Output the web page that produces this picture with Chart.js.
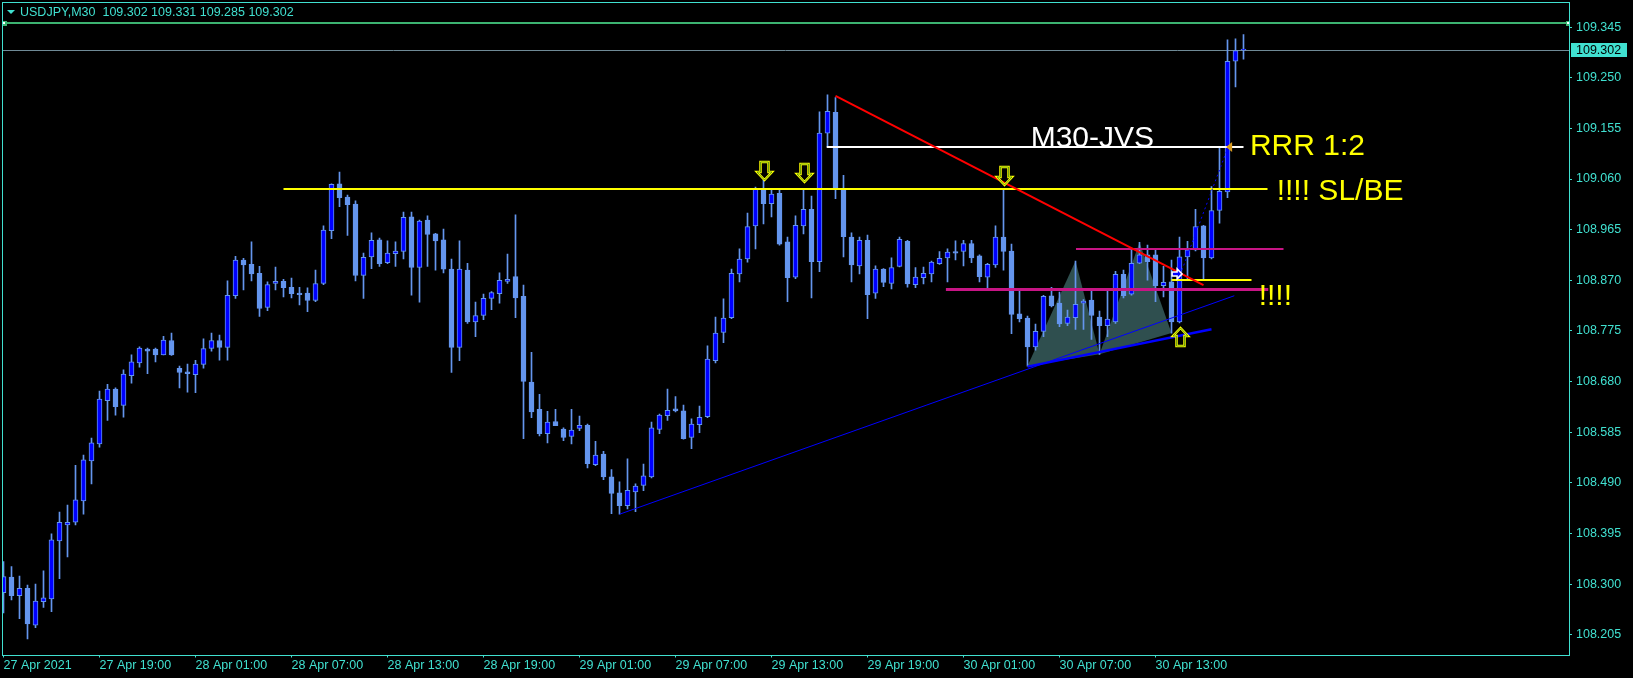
<!DOCTYPE html>
<html>
<head>
<meta charset="utf-8">
<script src="https://cdn.jsdelivr.net/npm/chart.js@4.4.1/dist/chart.umd.min.js"></script>
<style>
html, body { margin: 0; padding: 0; background: #000; overflow: hidden; }
canvas { display: block; }
</style>
</head>
<body>
<canvas id="chart" width="1633" height="678"></canvas>
<script>
// USDJPY M30, one entry per bar, bar 0 = 27 Apr 13:00
const opens = [
108.284,108.313,108.278,108.292,108.223,108.267,108.272,108.381,108.411,108.416,
108.456,108.531,108.563,108.644,108.666,108.635,108.691,108.715,108.741,108.741,
108.730,108.757,108.705,108.698,108.693,108.712,108.742,108.757,108.744,108.841,
108.908,108.900,108.883,108.819,108.864,108.868,108.857,108.846,108.846,108.832,
108.864,108.963,109.051,109.026,109.013,108.879,108.914,108.946,108.903,108.920,
108.924,108.989,108.894,108.983,108.957,108.946,108.891,108.744,108.889,108.792,
108.804,108.836,108.845,108.868,108.877,108.840,108.679,108.628,108.582,108.605,
108.591,108.577,108.592,108.598,108.524,108.544,108.501,108.471,108.447,108.473,
108.485,108.501,108.590,108.616,108.629,108.625,108.575,108.599,108.614,108.719,
108.772,108.800,108.882,108.910,108.972,109.041,109.014,109.033,108.942,108.876,
108.972,109.003,108.905,109.146,109.185,109.041,108.951,108.897,108.945,108.846,
108.891,108.864,108.896,108.943,108.862,108.875,108.882,108.901,108.912,108.924,
108.924,108.939,108.916,108.876,108.899,108.951,108.925,108.807,108.799,108.745,
108.774,108.841,108.827,108.789,108.800,108.827,108.833,108.801,108.785,108.792,
108.881,108.844,108.902,108.918,108.918,108.860,108.867,108.792,108.914,108.927,
108.972,108.912,109.001,109.036,109.281,109.302];
const highs = [
108.342,108.333,108.315,108.298,108.300,108.325,108.394,108.435,108.448,108.523,
108.542,108.574,108.662,108.675,108.668,108.702,108.730,108.745,108.743,108.743,
108.765,108.771,108.709,108.713,108.720,108.760,108.771,108.767,108.869,108.915,
108.911,108.942,108.896,108.867,108.895,108.872,108.874,108.857,108.856,108.889,
108.972,109.051,109.073,109.030,109.019,108.921,108.959,108.949,108.944,108.942,
108.998,108.998,108.983,108.991,108.958,108.966,108.910,108.944,108.902,108.829,
108.844,108.849,108.884,108.919,108.993,108.861,108.735,108.656,108.624,108.628,
108.593,108.628,108.615,108.600,108.568,108.549,108.515,108.492,108.535,108.488,
108.525,108.604,108.619,108.666,108.652,108.636,108.610,108.634,108.747,108.801,
108.835,108.891,108.929,108.996,109.045,109.058,109.039,109.039,108.951,108.991,
109.040,109.028,109.186,109.218,109.213,109.067,108.959,108.951,108.955,108.897,
108.892,108.912,108.951,108.945,108.894,108.895,108.906,108.924,108.929,108.944,
108.945,108.945,108.918,108.902,108.972,109.042,108.938,108.850,108.803,108.788,
108.842,108.857,108.848,108.814,108.906,108.834,108.850,108.812,108.852,108.887,
108.889,108.927,108.941,108.936,108.927,108.896,108.908,108.951,108.943,109.003,
108.973,109.046,109.119,109.321,109.323,109.331];
const lows = [
108.246,108.270,108.235,108.197,108.218,108.256,108.248,108.310,108.351,108.411,
108.431,108.488,108.557,108.607,108.617,108.613,108.677,108.707,108.695,108.717,
108.730,108.729,108.668,108.660,108.659,108.705,108.737,108.720,108.720,108.836,
108.852,108.869,108.802,108.813,108.852,108.839,108.837,108.824,108.811,108.830,
108.862,108.948,109.008,108.954,108.869,108.836,108.892,108.896,108.901,108.896,
108.910,108.842,108.829,108.896,108.889,108.884,108.697,108.719,108.789,108.764,
108.796,108.815,108.827,108.864,108.800,108.573,108.612,108.578,108.565,108.597,
108.569,108.563,108.588,108.518,108.522,108.496,108.432,108.431,108.441,108.436,
108.475,108.499,108.582,108.607,108.623,108.572,108.554,108.584,108.612,108.715,
108.753,108.798,108.867,108.904,108.929,108.976,108.989,108.936,108.830,108.873,
108.957,108.837,108.886,109.121,109.023,108.914,108.867,108.882,108.798,108.836,
108.858,108.854,108.895,108.857,108.856,108.863,108.867,108.900,108.867,108.908,
108.897,108.903,108.867,108.855,108.894,108.889,108.770,108.792,108.709,108.739,
108.764,108.820,108.783,108.785,108.778,108.778,108.759,108.731,108.764,108.789,
108.837,108.842,108.901,108.870,108.830,108.839,108.771,108.790,108.871,108.925,
108.871,108.910,108.977,109.025,109.233,109.285];
const closes = [
108.314,108.278,108.292,108.225,108.268,108.274,108.383,108.416,108.416,108.458,
108.533,108.565,108.647,108.666,108.633,108.694,108.717,108.743,108.737,108.730,
108.758,108.730,108.697,108.695,108.713,108.742,108.757,108.744,108.842,108.908,
108.899,108.882,108.817,108.862,108.868,108.856,108.845,108.843,108.832,108.864,
108.964,109.050,109.025,109.012,108.879,108.913,108.945,108.901,108.921,108.925,
108.988,108.894,108.981,108.956,108.944,108.891,108.744,108.891,108.792,108.804,
108.836,108.847,108.870,108.872,108.837,108.680,108.623,108.582,108.604,108.597,
108.575,108.589,108.598,108.526,108.542,108.501,108.470,108.447,108.476,108.484,
108.503,108.593,108.617,108.626,108.625,108.573,108.600,108.613,108.722,108.771,
108.799,108.883,108.910,108.971,109.041,109.014,109.032,108.938,108.875,108.973,
109.003,108.905,109.146,109.187,109.044,108.952,108.899,108.945,108.843,108.891,
108.866,108.894,108.947,108.863,108.876,108.883,108.904,108.911,108.923,108.921,
108.939,108.912,108.877,108.900,108.951,108.924,108.806,108.798,108.745,108.774,
108.840,108.822,108.788,108.801,108.825,108.831,108.804,108.785,108.797,108.881,
108.841,108.902,108.918,108.905,108.860,108.866,108.792,108.914,108.927,108.971,
108.912,109.001,109.037,109.281,109.301,109.302];

const yTicks = [109.345,109.250,109.155,109.060,108.965,108.870,108.775,108.680,108.585,108.490,108.395,108.300,108.205];
const xTickBars = [0,12,24,36,48,60,72,84,96,108,120,132,144];
const xTickLabels = ['27 Apr 2021','27 Apr 19:00','28 Apr 01:00','28 Apr 07:00','28 Apr 13:00','28 Apr 19:00',
  '29 Apr 01:00','29 Apr 07:00','29 Apr 13:00','29 Apr 19:00','30 Apr 01:00','30 Apr 07:00','30 Apr 13:00'];
const headerText = 'USDJPY,M30  109.302 109.331 109.285 109.302';
const bidPrice = 109.302;

// chart objects: [barFrom, priceFrom, barTo, priceTo]
const greenLine = [-0.2, 109.352, 195.7, 109.352];
const slLine = [35, 109.041, 158, 109.041];
const rrrLine = [102.9, 109.120, 155, 109.120];
const entryLine = [146, 108.871, 156, 108.871];
const upperPinkLine = [134.06, 108.929, 160, 108.929];
const lowerPinkLine = [117.8, 108.853, 158.1, 108.853];
const redTrend = [104, 109.216, 150, 108.861];
const longBlueTrend = [77, 108.431, 153.85, 108.841];
const shortBlueTrend = [128, 108.708, 151, 108.778];
const dottedPath = [147.3, 108.889, 153.1, 109.121];
const patternTriangles = [
  [[128, 108.709], [134, 108.906], [137, 108.731]],
  [[137, 108.731], [142, 108.941], [146, 108.771]]
];
const downArrows = [[95, 109.058], [100, 109.055], [125, 109.049]];
const upArrows = [[147, 108.780]];
// text objects: [label, bar, baseline price]
const whiteTexts = [['M30-JVS', 128.4, 109.121]];
const yellowTexts = [['RRR 1:2', 155.8, 109.105], ['!!!! SL/BE', 159.15, 109.021], ['!!!!', 156.9, 108.824]];
const rrrMarker = [153.2, 109.120];
const entryMarker = [146.7, 108.882];

const AXIS = '#40e0d0';
const CANDLE = '#6495ed';
const FONT = { family: '"Liberation Sans", Arial, sans-serif', size: 12.5 };

const barIdx = opens.map((_, i) => i);
const wickData = barIdx.map(i => ({ x: i, y: [lows[i], highs[i]] }));
const bodyData = barIdx.map(i => ({ x: i, y: [opens[i], closes[i]] }));
const bodyColors = barIdx.map(i => closes[i] >= opens[i] ? '#0000ff' : CANDLE);

function seg(ctx, X, Y, s, color, width, dash) {
  let y1 = Y(s[1]), y2 = Y(s[3]);
  if (s[1] === s[3]) {
    y1 = y2 = Math.round(y1) + (width % 2 ? 0.5 : 0);
  }
  ctx.save();
  ctx.strokeStyle = color;
  ctx.lineWidth = width;
  if (dash) ctx.setLineDash(dash);
  ctx.beginPath();
  ctx.moveTo(X(s[0]), y1);
  ctx.lineTo(X(s[2]), y2);
  ctx.stroke();
  ctx.restore();
}

function arrow(ctx, x, y, dir) {
  // tip at (x, y); dir 1 points down, -1 points up
  x = Math.round(x) + 0.5;
  y = Math.round(y);
  ctx.beginPath();
  ctx.moveTo(x, y);
  ctx.lineTo(x - 7.5, y - 8 * dir);
  ctx.lineTo(x - 4, y - 8 * dir);
  ctx.lineTo(x - 4, y - 18 * dir);
  ctx.lineTo(x + 4, y - 18 * dir);
  ctx.lineTo(x + 4, y - 8 * dir);
  ctx.lineTo(x + 7.5, y - 8 * dir);
  ctx.closePath();
  ctx.lineWidth = 2.5;
  ctx.strokeStyle = '#ffff00';
  ctx.stroke();
  ctx.lineWidth = 0.8;
  ctx.strokeStyle = '#4a8a10';
  ctx.stroke();
}

const drawings = {
  id: 'drawings',
  beforeDatasetsDraw(chart) {
    const { ctx, chartArea: a } = chart;
    const X = v => chart.scales.x.getPixelForValue(v);
    const Y = v => chart.scales.y.getPixelForValue(v);
    ctx.save();
    ctx.beginPath();
    ctx.rect(a.left, a.top, a.right - a.left, a.bottom - a.top);
    ctx.clip();
    ctx.fillStyle = '#2f4f4f';
    patternTriangles.forEach(t => {
      ctx.beginPath();
      t.forEach(([b, p], k) => k ? ctx.lineTo(X(b), Y(p)) : ctx.moveTo(X(b), Y(p)));
      ctx.closePath();
      ctx.fill();
    });
    seg(ctx, X, Y, [-0.2, bidPrice, 195.7, bidPrice], '#6f8a96', 1);
    ctx.restore();
  },
  afterDatasetsDraw(chart) {
    const { ctx, chartArea: a } = chart;
    const X = v => chart.scales.x.getPixelForValue(v);
    const Y = v => chart.scales.y.getPixelForValue(v);
    ctx.save();
    ctx.beginPath();
    ctx.rect(a.left, a.top, a.right - a.left, a.bottom - a.top);
    ctx.clip();

    seg(ctx, X, Y, greenLine, '#3cb371', 2);
    seg(ctx, X, Y, slLine, '#ffff00', 2);
    seg(ctx, X, Y, rrrLine, '#ffffff', 2);
    seg(ctx, X, Y, upperPinkLine, '#c71585', 2);
    seg(ctx, X, Y, lowerPinkLine, '#c71585', 3);
    seg(ctx, X, Y, entryLine, '#ffff00', 2);
    seg(ctx, X, Y, longBlueTrend, '#0000ff', 1);
    seg(ctx, X, Y, shortBlueTrend, '#0000ff', 2.5);
    seg(ctx, X, Y, dottedPath, '#0000ff', 1, [2, 3]);
    seg(ctx, X, Y, redTrend, '#ff0000', 2);

    // selection squares at the ends of the green line
    [greenLine[0] + 0.2, greenLine[2] - 0.1].forEach(b => {
      const x = Math.round(X(b)), y = Math.round(Y(greenLine[1]));
      ctx.fillStyle = '#3cb371';
      ctx.fillRect(x - 2, y - 2, 5, 5);
      ctx.fillStyle = '#ffffff';
      ctx.fillRect(x - 1, y - 1, 2, 2);
    });

    downArrows.forEach(([b, p]) => arrow(ctx, X(b), Y(p), 1));
    upArrows.forEach(([b, p]) => arrow(ctx, X(b), Y(p), -1));

    // RRR marker (small left pointing triangle)
    {
      const x = X(rrrMarker[0]), y = Y(rrrMarker[1]);
      ctx.fillStyle = '#d89a20';
      ctx.beginPath();
      ctx.moveTo(x - 3, y);
      ctx.lineTo(x + 3, y - 5);
      ctx.lineTo(x + 3, y + 5);
      ctx.closePath();
      ctx.fill();
    }
    // entry marker (small right pointing arrow)
    {
      const x = X(entryMarker[0]), y = Y(entryMarker[1]);
      ctx.beginPath();
      ctx.moveTo(x - 5, y - 2);
      ctx.lineTo(x, y - 2);
      ctx.lineTo(x, y - 5);
      ctx.lineTo(x + 5, y);
      ctx.lineTo(x, y + 5);
      ctx.lineTo(x, y + 2);
      ctx.lineTo(x - 5, y + 2);
      ctx.closePath();
      ctx.fillStyle = '#0000ff';
      ctx.fill();
      ctx.lineWidth = 1.5;
      ctx.strokeStyle = '#ffffff';
      ctx.stroke();
    }

    ctx.font = '30px "Liberation Sans", Arial, sans-serif';
    ctx.textBaseline = 'alphabetic';
    ctx.textAlign = 'left';
    ctx.fillStyle = '#ffffff';
    whiteTexts.forEach(([t, b, p]) => ctx.fillText(t, X(b), Y(p)));
    ctx.fillStyle = '#ffff00';
    yellowTexts.forEach(([t, b, p]) => ctx.fillText(t, X(b), Y(p)));
    ctx.restore();
  },
  afterDraw(chart) {
    const { ctx, chartArea: a } = chart;
    const Y = v => chart.scales.y.getPixelForValue(v);
    ctx.save();
    // window frame
    ctx.strokeStyle = AXIS;
    ctx.lineWidth = 1;
    ctx.strokeRect(2.5, 2.5, Math.round(a.right) - 2, Math.round(a.bottom) - 2);
    // header
    ctx.fillStyle = AXIS;
    ctx.beginPath();
    ctx.moveTo(7, 10);
    ctx.lineTo(15, 10);
    ctx.lineTo(11, 14);
    ctx.closePath();
    ctx.fill();
    ctx.font = '12.5px "Liberation Sans", Arial, sans-serif';
    ctx.textBaseline = 'middle';
    ctx.fillText(headerText, 20, 12.5);
    // current bid label
    const y = Math.round(Y(bidPrice));
    ctx.fillStyle = AXIS;
    ctx.fillRect(a.right + 2, y - 7, 56, 14);
    ctx.fillStyle = '#000000';
    ctx.fillText(bidPrice.toFixed(3), a.right + 7, y + 0.5);
    ctx.restore();
  }
};

new Chart(document.getElementById('chart'), {
  type: 'bar',
  data: {
    datasets: [
      { data: wickData, backgroundColor: CANDLE, barThickness: 1, grouped: false, order: 2 },
      { data: bodyData, backgroundColor: bodyColors, borderColor: CANDLE, borderWidth: 1,
        borderSkipped: false, barThickness: 5, minBarLength: 1, grouped: false, order: 1 }
    ]
  },
  options: {
    responsive: false,
    animation: false,
    devicePixelRatio: 1,
    layout: { padding: { top: 2, left: 2, right: 0, bottom: 0 } },
    plugins: { legend: { display: false }, tooltip: { enabled: false } },
    scales: {
      x: {
        type: 'linear',
        offset: false,
        min: -0.1875,
        max: 195.6875,
        afterBuildTicks: s => { s.ticks = xTickBars.map(v => ({ value: v })); },
        afterFit: s => { s.height = 23.5; s.paddingLeft = 0; s.paddingRight = 0; },
        ticks: { autoSkip: false, maxRotation: 0, align: 'start', color: AXIS, font: FONT, padding: 1,
          callback: (v, i) => xTickLabels[i] },
        grid: { offset: false, drawOnChartArea: false, drawTicks: true, tickLength: 3, color: AXIS },
        border: { display: false }
      },
      y: {
        position: 'right',
        min: 108.1678,
        max: 109.3922,
        afterBuildTicks: s => { s.ticks = yTicks.map(v => ({ value: v })); },
        afterFit: s => { s.width = 64; s.paddingTop = 0; s.paddingBottom = 0; },
        ticks: { color: AXIS, font: FONT, padding: 4, callback: v => v.toFixed(3) },
        grid: { drawOnChartArea: false, drawTicks: true, tickLength: 3, color: AXIS },
        border: { display: false }
      }
    }
  },
  plugins: [drawings]
});
</script>
</body>
</html>
